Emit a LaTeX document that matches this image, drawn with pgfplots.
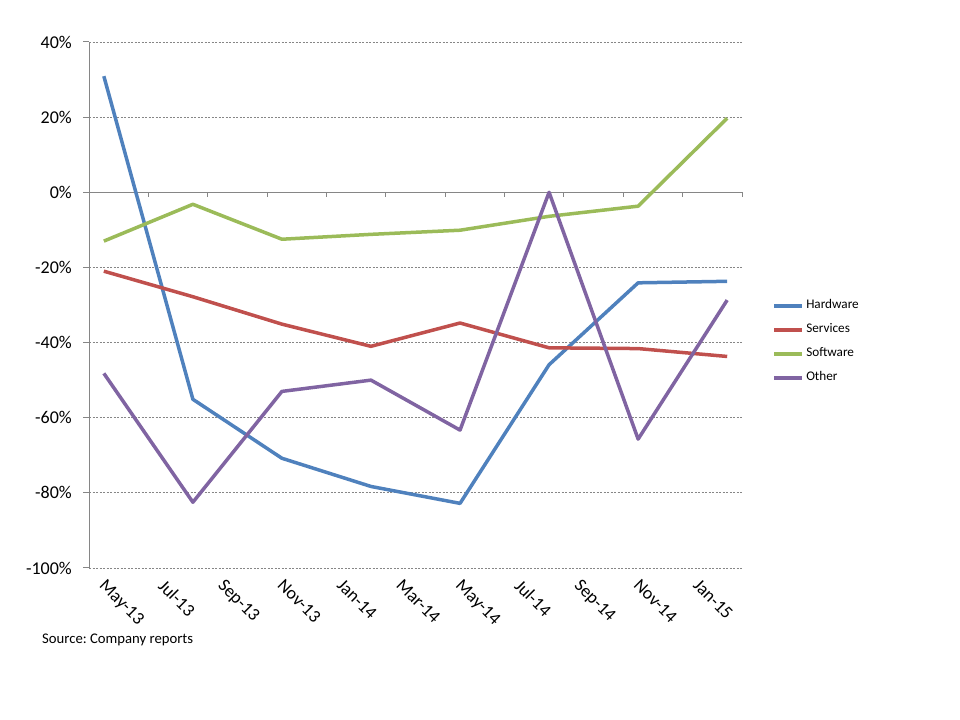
\documentclass[border=0pt]{standalone}
\usepackage{fontspec}
\setmainfont{Carlito}
\usepackage{pgfplots}
\pgfplotsset{compat=1.18}
\definecolor{hw}{HTML}{4F81BD}
\definecolor{sv}{HTML}{C0504D}
\definecolor{sw}{HTML}{9BBB59}
\definecolor{ot}{HTML}{8064A2}
\definecolor{axgray}{HTML}{868686}
\frenchspacing
\begin{document}
\begin{tikzpicture}[x=1bp,y=1bp]
\path[use as bounding box] (0,0) rectangle (960,720);
\begin{axis}[
  at={(89bp,152bp)}, anchor=south west,
  scale only axis, width=653bp, height=526bp,
  xmin=0, xmax=22, ymin=-100, ymax=40,
  axis lines*=left,
  x axis line style={draw=none},
  y axis line style={draw=axgray, line width=1bp},
  ytick={-100,-80,-60,-40,-20,0,20,40},
  yticklabels={-100\%,-80\%,-60\%,-40\%,-20\%,0\%,20\%,40\%},
  ytick style={draw=axgray, line width=1bp},
  major tick length=6bp,
  tick align=outside,
  xtick={0.5,2.5,4.5,6.5,8.5,10.5,12.5,14.5,16.5,18.5,20.5},
  xticklabels={May-13,Jul-13,Sep-13,Nov-13,Jan-14,Mar-14,May-14,Jul-14,Sep-14,Nov-14,Jan-15},
  xtick style={draw=none},
  ymajorgrids,
  grid style={draw=axgray, line width=0.75bp, dash pattern=on 2bp off 1.5bp},
  tick label style={font=\fontsize{18bp}{21bp}\selectfont},
  yticklabel style={inner sep=0pt, xshift=-11bp},
  xticklabel style={inner sep=0pt, xshift=3bp, yshift=-4bp, rotate=-45, anchor=north west},
  legend style={at={(1.046,0.4297)}, anchor=west, draw=none, fill=none, inner sep=0pt,
    row sep=12bp, column sep=2.5bp,
    nodes={inner sep=0pt, text height=9bp, text depth=3bp, font=\fontsize{13.2bp}{15bp}\selectfont}},
  legend cell align=left,
  legend image code/.code={\draw[#1] (0bp,0bp) -- (28bp,0bp);},
  every axis plot/.append style={line width=3.5bp, line join=round, mark=none},
  clip=false,
]
\draw[axgray, line width=1bp] (axis cs:0,0) -- (axis cs:22,0);
\pgfplotsinvokeforeach{2,4,6,8,10,12,14,16,18,20,22}{
  \draw[axgray, line width=1bp] (axis cs:#1,0) -- ++(0bp,-5bp);
}
\addplot[hw] coordinates {(0.5,30.9) (3.5,-55.1) (6.5,-70.8) (9.5,-78.3) (12.5,-82.8) (15.5,-45.9) (18.5,-24.1) (21.5,-23.7)};
\addlegendentry{Hardware}
\addplot[sv] coordinates {(0.5,-21.0) (3.5,-27.8) (6.5,-35.1) (9.5,-41.0) (12.5,-34.8) (15.5,-41.4) (18.5,-41.6) (21.5,-43.7)};
\addlegendentry{Services}
\addplot[sw] coordinates {(0.5,-13.0) (3.5,-3.2) (6.5,-12.5) (9.5,-11.2) (12.5,-10.1) (15.5,-6.4) (18.5,-3.7) (21.5,19.7)};
\addlegendentry{Software}
\addplot[ot] coordinates {(0.5,-48.2) (3.5,-82.5) (6.5,-53.0) (9.5,-50.0) (12.5,-63.3) (15.5,0.0) (18.5,-65.7) (21.5,-28.7)};
\addlegendentry{Other}
\end{axis}
\node[anchor=base west, inner sep=0pt, font=\fontsize{14.7bp}{18bp}\selectfont] at (42,76) {Source: Company reports};
\end{tikzpicture}
\end{document}
